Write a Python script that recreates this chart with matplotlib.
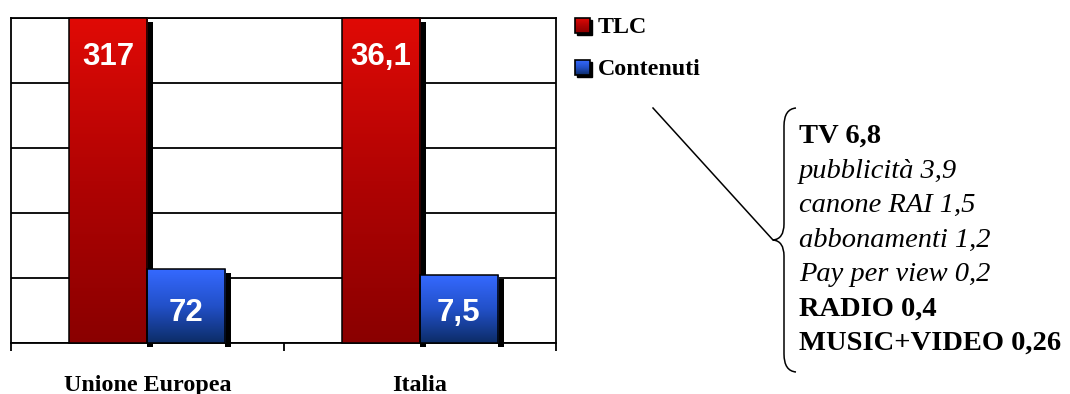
import numpy as np
import matplotlib
matplotlib.use("Agg")
import matplotlib.pyplot as plt
from matplotlib.colors import LinearSegmentedColormap
from matplotlib.path import Path
from matplotlib.patches import PathPatch, Rectangle
from matplotlib.transforms import ScaledTranslation

# --- data -------------------------------------------------------------
regions = ["Unione Europea", "Italia"]
series = ["TLC", "Contenuti"]
tlc = [317, 36.1]
contenuti = [72, 7.5]
tlc_labels = ["317", "36,1"]
contenuti_labels = ["72", "7,5"]

detail_lines = ["TV 6,8", "pubblicità 3,9", "canone RAI 1,5", "abbonamenti 1,2",
                "Pay per view 0,2", "RADIO 0,4", "MUSIC+VIDEO 0,26"]
detail_styles = ["bold", "italic", "italic", "italic", "italic", "bold", "bold"]

# --- styling ----------------------------------------------------------
W, H = 1070, 394
red = LinearSegmentedColormap.from_list("red", ["#8a0000", "#b00303", "#e00a06"])
blue = LinearSegmentedColormap.from_list("blue", ["#0c2c66", "#2250c8", "#3569ff"])
grad = np.linspace(0, 1, 256).reshape(-1, 1)
serif = "Liberation Serif"
sans = "Liberation Sans"

fig = plt.figure(figsize=(W / 100, H / 100), dpi=100)
ax = fig.add_axes([11 / W, 1 - 343 / H, (556 - 11) / W, (343 - 18) / H])
ax2 = ax.twinx()
axes = [ax, ax2]

bar_w = 0.287
strip_w = 6 / 272.5  # shadow strip width in category units
down = ScaledTranslation(0, -4 / 100, fig.dpi_scale_trans)

for i, a in enumerate(axes):
    xc = i + 0.5
    items = [(tlc[i], xc - bar_w / 2, red, tlc_labels[i], True),
             (contenuti[i], xc + bar_w / 2, blue, contenuti_labels[i], False)]
    for val, x, cmap, lab, top in items:
        # right-hand drop shadow, shifted slightly downwards
        sh = a.bar(x + bar_w / 2, val, width=strip_w, align="edge", color="black",
                   lw=0, zorder=2, clip_on=False)
        sh[0].set_transform(a.transData + down)
        a.imshow(grad, extent=(x - bar_w / 2, x + bar_w / 2, 0, val), origin="lower",
                 cmap=cmap, aspect="auto", interpolation="bilinear", zorder=3, clip_on=False)
        a.bar(x, val, width=bar_w, fill=False, edgecolor="black", lw=1.1, zorder=4, clip_on=False)
        if top:
            a.annotate(lab, xy=(x, val), xytext=(0, -28), textcoords="offset points",
                       ha="center", va="center", color="white", fontsize=22.5,
                       fontweight="bold", family=sans, zorder=6)
        else:
            a.annotate(lab, xy=(x, 0), xytext=(0, 21.6), textcoords="offset points",
                       ha="center", va="center", color="white", fontsize=22.5,
                       fontweight="bold", family=sans, zorder=6)
    a.set_xlim(0, 2)
    a.set_ylim(0, tlc[i])

# grid and frame
ax.set_yticks(np.linspace(0, tlc[0], 6))
ax.yaxis.grid(True, color="black", lw=1.3)
ax.set_axisbelow(True)
ax.tick_params(axis="y", length=0, labelleft=False)
ax.set_xticks([0, 1, 2])
ax.set_xticklabels([])
ax.tick_params(axis="x", length=6, width=1.3, direction="out", color="black")
for s in ax.spines.values():
    s.set_linewidth(1.3)
    s.set_color("black")
ax2.set_yticks([])
for s in ax2.spines.values():
    s.set_visible(False)

# --- overlay in pixel coordinates for legend and notes ----------------
ov = fig.add_axes([0, 0, 1, 1], zorder=10)
ov.axis("off")
ov.patch.set_visible(False)

# category labels
for i, name in enumerate(regions):
    xpix = 11 + (i + 0.5) * (556 - 11) / 2
    ov.text(xpix, 391, name, ha="center", va="baseline", family=serif,
            fontweight="bold", fontsize=17.3)

# legend
for cmap, name, ytop in [(red, series[0], 18), (blue, series[1], 60)]:
    ov.add_patch(Rectangle((577, ytop + 2), 15, 15, color="black", zorder=1))
    ov.imshow(grad, extent=(575, 590, ytop + 15, ytop), origin="lower", cmap=cmap,
              aspect="auto", interpolation="bilinear", zorder=2)
    ov.add_patch(Rectangle((575, ytop), 15, 15, fill=False, edgecolor="black", lw=1.2, zorder=3))
    ov.text(598, ytop + 15, name, va="baseline", ha="left", family=serif,
            fontweight="bold", fontsize=17.3)

# connector and brace
ov.plot([653, 773], [108, 240], color="black", lw=1.1)
verts = [(796, 108), (784, 109), (784, 126),
         (784, 224),
         (784, 239), (773, 240),
         (784, 241), (784, 256),
         (784, 354),
         (784, 371), (796, 372)]
codes = [Path.MOVETO, Path.CURVE3, Path.CURVE3,
         Path.LINETO,
         Path.CURVE3, Path.CURVE3,
         Path.CURVE3, Path.CURVE3,
         Path.LINETO,
         Path.CURVE3, Path.CURVE3]
ov.add_patch(PathPatch(Path(verts, codes), fill=False, edgecolor="black", lw=1.1))

# detail text
baselines = np.linspace(143, 350, len(detail_lines))
for yb, line, style in zip(baselines, detail_lines, detail_styles):
    kw = {"fontweight": "bold"} if style == "bold" else {"fontstyle": "italic"}
    ov.text(799, yb, line, va="baseline", ha="left", family=serif, fontsize=20.5, **kw)

ov.set_xlim(0, W)
ov.set_ylim(H, 0)

fig.savefig("out.png", dpi=100)
